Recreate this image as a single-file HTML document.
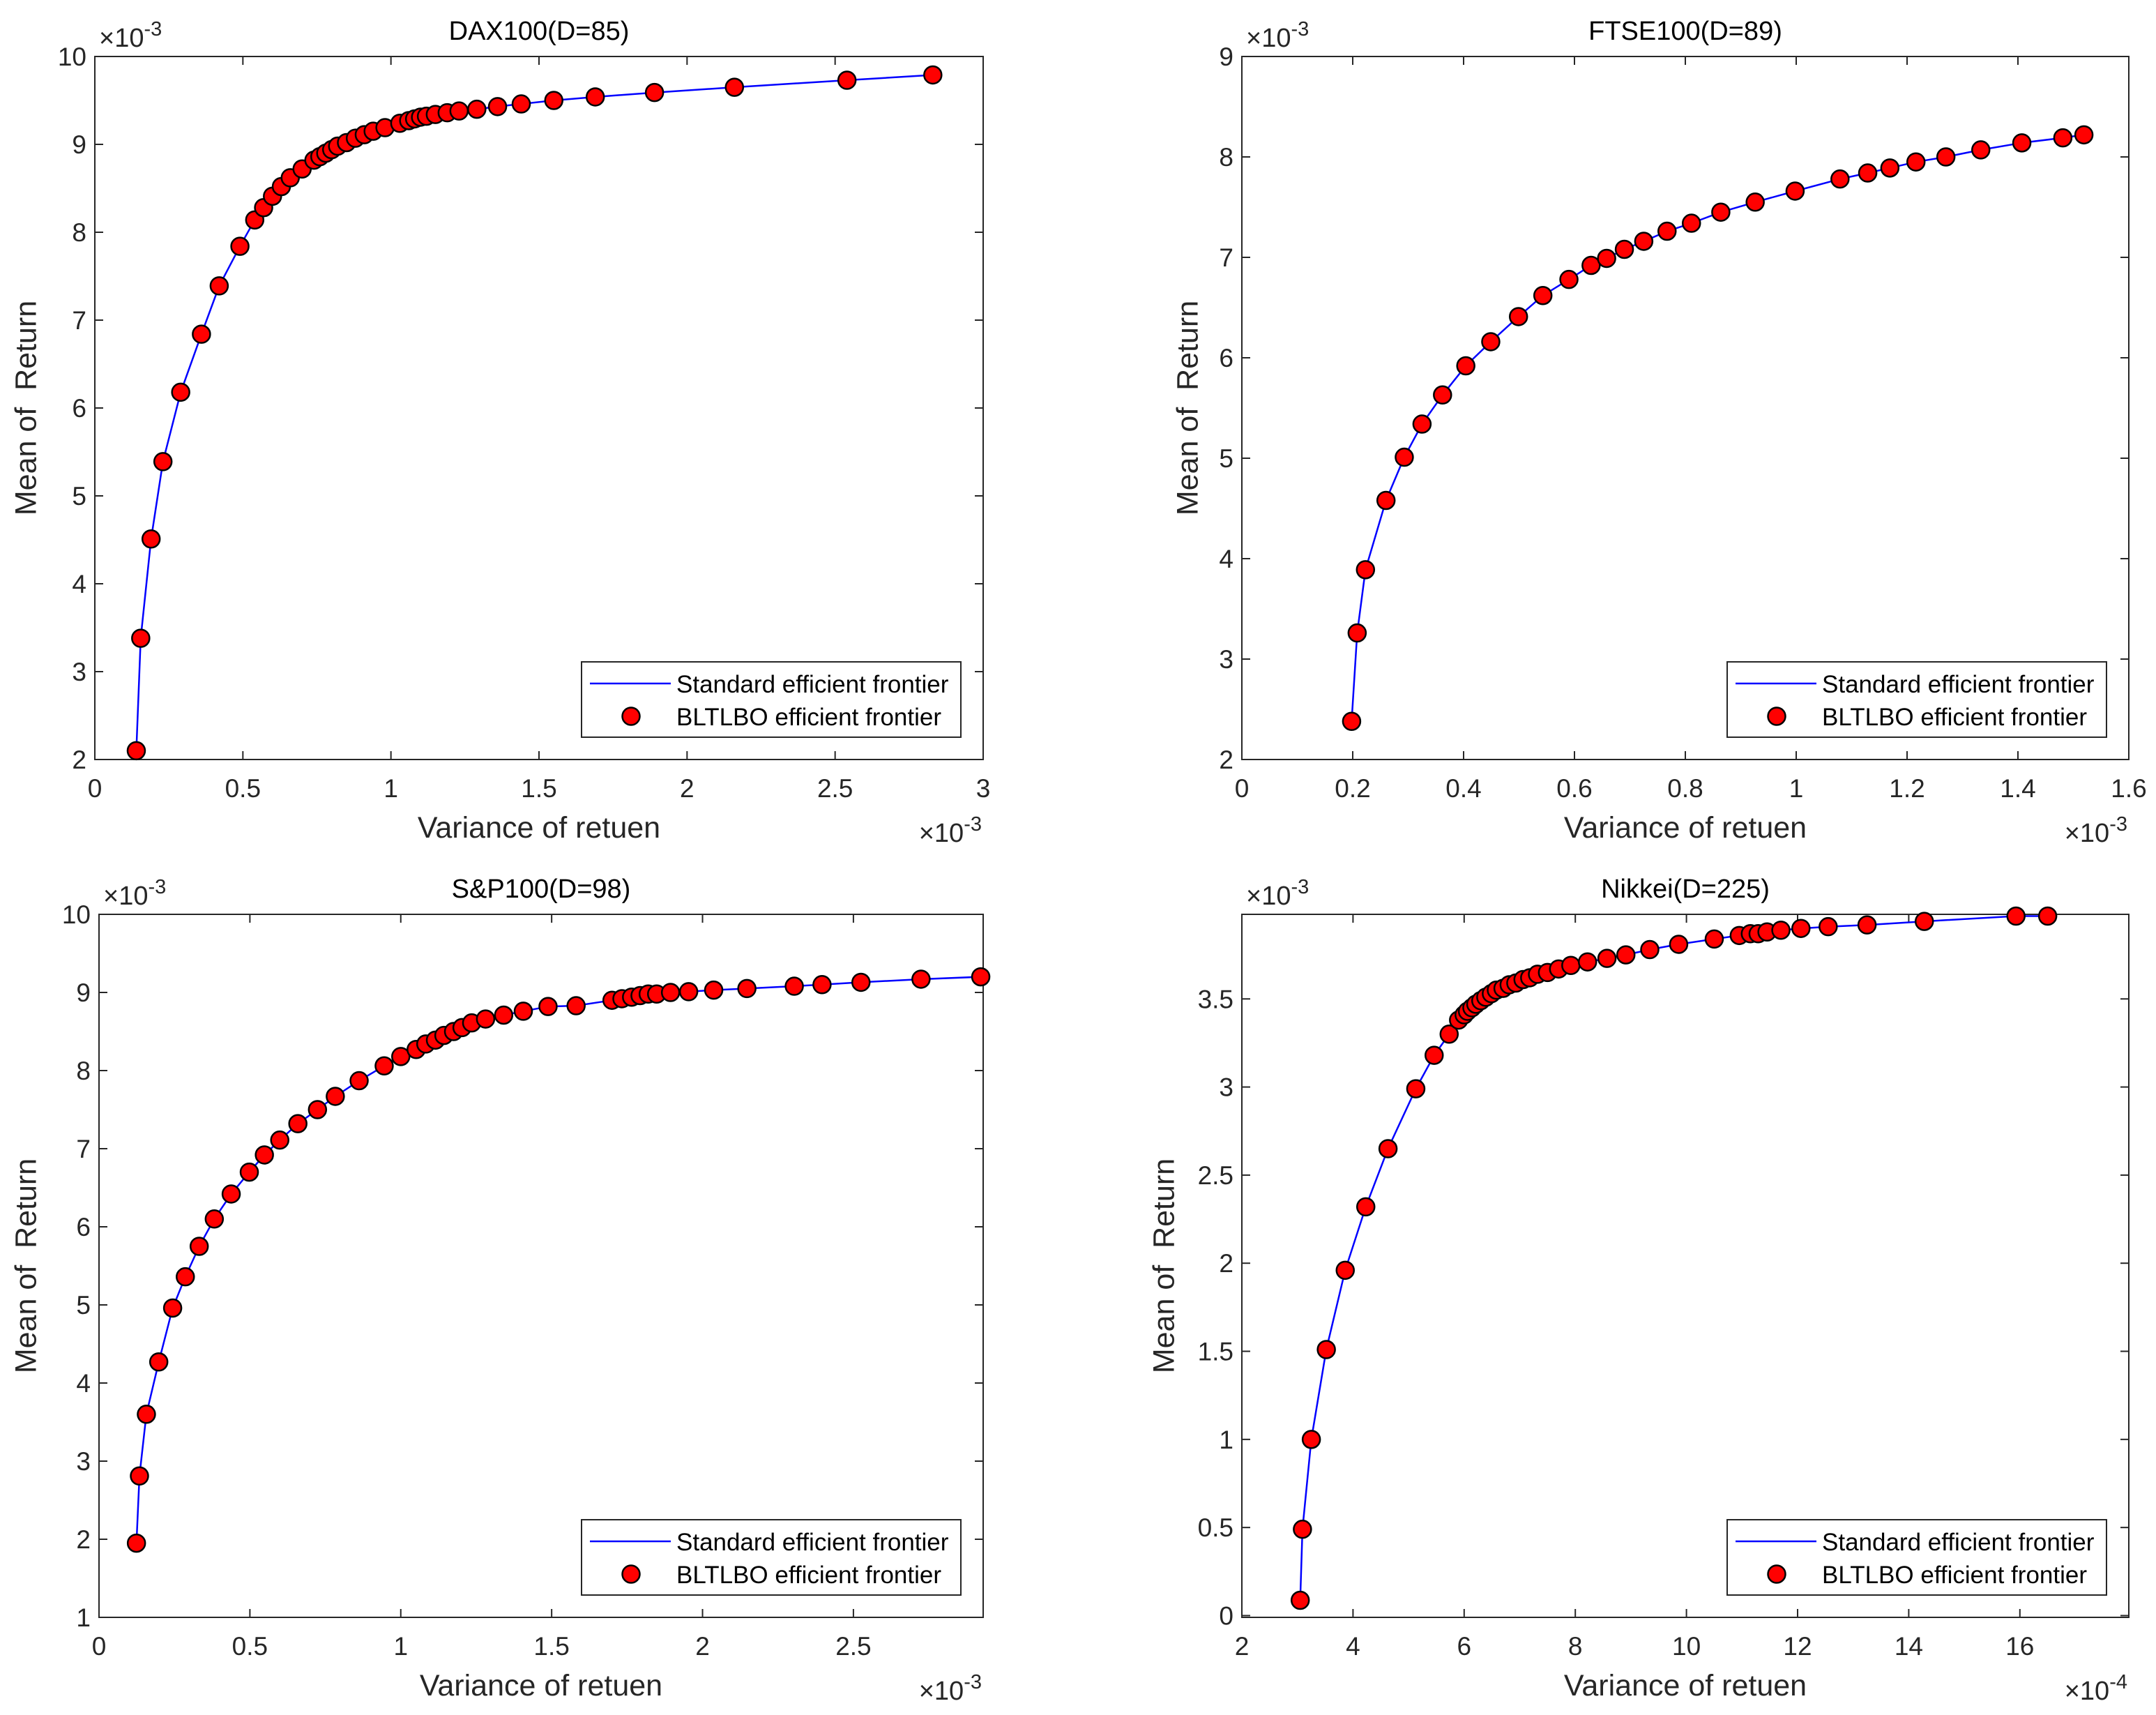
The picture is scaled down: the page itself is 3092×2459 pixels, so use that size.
<!DOCTYPE html>
<html><head><meta charset="utf-8"><style>
html,body{margin:0;padding:0;background:#fff;}
svg{display:block;font-family:"Liberation Sans",Arial,sans-serif;}
</style></head><body>
<svg id="fig" width="3092" height="2459" viewBox="0 0 3092 2459" xmlns="http://www.w3.org/2000/svg"></svg>
<script>
const daxX=[0.14,0.155,0.19,0.23,0.29,0.36,0.42,0.49,0.54,0.57,0.6,0.63,0.66,0.7,0.74,0.76,0.78,0.8,0.82,0.85,0.88,0.91,0.94,0.98,1.03,1.06,1.08,1.1,1.12,1.15,1.19,1.23,1.29,1.36,1.44,1.55,1.69,1.89,2.16,2.54,2.83];
const daxY=[2.1,3.38,4.51,5.39,6.18,6.84,7.39,7.84,8.14,8.28,8.41,8.52,8.62,8.72,8.82,8.86,8.9,8.94,8.98,9.02,9.07,9.11,9.15,9.19,9.24,9.27,9.29,9.31,9.32,9.34,9.36,9.38,9.4,9.43,9.46,9.5,9.54,9.59,9.65,9.73,9.79];
const ftseX=[0.198,0.208,0.223,0.26,0.293,0.325,0.362,0.404,0.449,0.499,0.543,0.59,0.63,0.658,0.69,0.725,0.767,0.811,0.864,0.926,0.998,1.079,1.129,1.169,1.216,1.27,1.333,1.407,1.481,1.519];
const ftseY=[2.38,3.26,3.89,4.58,5.01,5.34,5.63,5.92,6.16,6.41,6.62,6.78,6.92,6.99,7.08,7.16,7.26,7.34,7.45,7.55,7.66,7.78,7.84,7.89,7.95,8.0,8.07,8.14,8.19,8.22];
const spX=[0.124,0.134,0.157,0.198,0.244,0.286,0.332,0.382,0.438,0.498,0.548,0.599,0.659,0.724,0.783,0.862,0.945,1.0,1.051,1.083,1.115,1.143,1.175,1.203,1.235,1.281,1.341,1.406,1.488,1.581,1.7,1.733,1.765,1.793,1.82,1.848,1.894,1.954,2.037,2.147,2.304,2.396,2.525,2.724,2.922];
const spY=[1.95,2.81,3.6,4.27,4.96,5.36,5.75,6.1,6.42,6.7,6.92,7.11,7.32,7.5,7.67,7.87,8.06,8.18,8.27,8.34,8.39,8.45,8.5,8.55,8.61,8.66,8.71,8.76,8.82,8.83,8.9,8.92,8.94,8.96,8.98,8.98,9.0,9.01,9.03,9.05,9.08,9.1,9.13,9.17,9.2];
const nkX=[3.05,3.09,3.25,3.52,3.86,4.23,4.63,5.13,5.46,5.73,5.9,6.0,6.06,6.14,6.21,6.3,6.39,6.49,6.58,6.7,6.81,6.93,7.06,7.18,7.32,7.5,7.7,7.92,8.22,8.57,8.91,9.34,9.86,10.5,10.95,11.15,11.29,11.45,11.7,12.06,12.55,13.25,14.28,15.93,16.5];
const nkY=[0.087,0.49,1.0,1.51,1.96,2.32,2.65,2.99,3.18,3.3,3.38,3.41,3.43,3.45,3.47,3.49,3.51,3.53,3.55,3.56,3.58,3.59,3.61,3.62,3.64,3.65,3.67,3.69,3.71,3.73,3.75,3.78,3.81,3.84,3.86,3.87,3.87,3.88,3.89,3.9,3.91,3.92,3.94,3.97,3.97];
const daxXTicks=["0","0.5","1","1.5","2","2.5","3"];
const daxYTicks=["2","3","4","5","6","7","8","9","10"];
const ftseXTicks=["0","0.2","0.4","0.6","0.8","1","1.2","1.4","1.6"];
const ftseYTicks=["2","3","4","5","6","7","8","9"];
const spXTicks=["0","0.5","1","1.5","2","2.5"];
const spYTicks=["1","2","3","4","5","6","7","8","9","10"];
const nkXTicks=["2","4","6","8","10","12","14","16"];
const nkYTicks=["0","0.5","1","1.5","2","2.5","3","3.5"];

const NS="http://www.w3.org/2000/svg";
const fig=document.getElementById('fig');
function mk(tag,attrs,parent,text){const e=document.createElementNS(NS,tag);for(const k in attrs)e.setAttribute(k,attrs[k]);if(text!==undefined)e.textContent=text;parent.appendChild(e);return e;}

const panels=[
 {name:'dax',title:'DAX100(D=85)',L:136,R:1410,T:81,B:1089,xmin:0,xmax:3,ymin:2,ymax:10,xs:daxX,ys:daxY,xt:daxXTicks,yt:daxYTicks,xexp:'-3',ylx:40},
 {name:'ftse',title:'FTSE100(D=89)',L:1781,R:3053,T:81,B:1089,xmin:0,xmax:1.6,ymin:2,ymax:9,xs:ftseX,ys:ftseY,xt:ftseXTicks,yt:ftseYTicks,xexp:'-3',ylx:1706},
 {name:'sp',title:'S&P100(D=98)',L:142,R:1410,T:1311,B:2319,xmin:0,xmax:2.93,ymin:1,ymax:10,xs:spX,ys:spY,xt:spXTicks,yt:spYTicks,xexp:'-3',ylx:40},
 {name:'nikkei',title:'Nikkei(D=225)',L:1781,R:3053,T:1311,B:2319,xmin:2,xmax:17.96,ymin:-0.01,ymax:3.98,xs:nkX,ys:nkY,xt:nkXTicks,yt:nkYTicks,xexp:'-4',ylx:1672}
];

panels.forEach(p=>{
 const g=mk('g',{},fig);
 
 
 const sx=v=>p.L+(v-p.xmin)/(p.xmax-p.xmin)*(p.R-p.L);
 const sy=v=>p.B-(v-p.ymin)/(p.ymax-p.ymin)*(p.B-p.T);
 p.xt.forEach(t=>{const v=parseFloat(t),x=sx(v);
  mk('line',{x1:x,x2:x,y1:p.B,y2:p.B-12,stroke:'#262626','stroke-width':2},g);
  mk('line',{x1:x,x2:x,y1:p.T,y2:p.T+12,stroke:'#262626','stroke-width':2},g);
  const tx=mk('text',{x:x,y:p.B+54,'font-size':37,'text-anchor':'middle',fill:'#262626'},g,t);
  
  
 });
 p.yt.forEach(t=>{const v=parseFloat(t),y=sy(v);
  mk('line',{x1:p.L,x2:p.L+12,y1:y,y2:y,stroke:'#262626','stroke-width':2},g);
  mk('line',{x1:p.R,x2:p.R-12,y1:y,y2:y,stroke:'#262626','stroke-width':2},g);
  const ty=mk('text',{x:p.L-12,y:y+13,'font-size':37,'text-anchor':'end',fill:'#262626'},g,t);
  
  
 });
 const box=mk('rect',{x:p.L,y:p.T,width:p.R-p.L,height:p.B-p.T,fill:'none',stroke:'#262626','stroke-width':2},g);
 
 
 const pts=p.xs.map((v,i)=>sx(v).toFixed(1)+','+sy(p.ys[i]).toFixed(1)).join(' ');
 const pl=mk('polyline',{points:pts,fill:'none',stroke:'#0000ff','stroke-width':2.5},g);
 
 
 p.xs.forEach((v,i)=>{
  const c=mk('circle',{cx:sx(v),cy:sy(p.ys[i]),r:12.5,fill:'#ff0000',stroke:'#000','stroke-width':2.5},g);
  
  
 });
 const ti=mk('text',{x:(p.L+p.R)/2,y:p.T-24,'font-size':38,'text-anchor':'middle',fill:'#000'},g,p.title);
 
 
 const e1=mk('text',{x:p.L+6,y:p.T-14,'font-size':38,fill:'#262626'},g);
 
 
 mk('tspan',{},e1,'×10');mk('tspan',{dy:-16,'font-size':29},e1,'-3');
 const e2=mk('text',{x:p.R-2,y:p.B+118,'font-size':38,fill:'#262626','text-anchor':'end'},g);
 
 
 mk('tspan',{},e2,'×10');mk('tspan',{dy:-16,'font-size':29},e2,p.xexp);
 const xl=mk('text',{x:(p.L+p.R)/2,y:p.B+112,'font-size':43,'text-anchor':'middle',fill:'#262626'},g,'Variance of retuen');
 
 
 const yc=(p.T+p.B)/2;
 const yl=mk('text',{x:p.ylx,y:yc,'font-size':43,'text-anchor':'middle',fill:'#262626',transform:`rotate(-90 ${p.ylx} ${yc})`,'dominant-baseline':'middle'},g,'Mean of\u00a0 Return');
 
 
 const lx=p.R-576,ly=p.B-140;
 const lg=mk('g',{},g);
 
 
 mk('rect',{x:lx,y:ly,width:544,height:108,fill:'#fff',stroke:'#262626','stroke-width':2},lg);
 mk('line',{x1:lx+12,x2:lx+128,y1:ly+31,y2:ly+31,stroke:'#0000ff','stroke-width':2.5},lg);
 const le1=mk('text',{x:lx+136,y:ly+44,'font-size':35,fill:'#000'},lg,'Standard efficient frontier');
 
 
 mk('circle',{cx:lx+71,cy:ly+78,r:12.5,fill:'#ff0000',stroke:'#000','stroke-width':2.5},lg);
 const le2=mk('text',{x:lx+136,y:ly+91,'font-size':35,fill:'#000'},lg,'BLTLBO efficient frontier');
 
 
});
</script>
</body></html>
